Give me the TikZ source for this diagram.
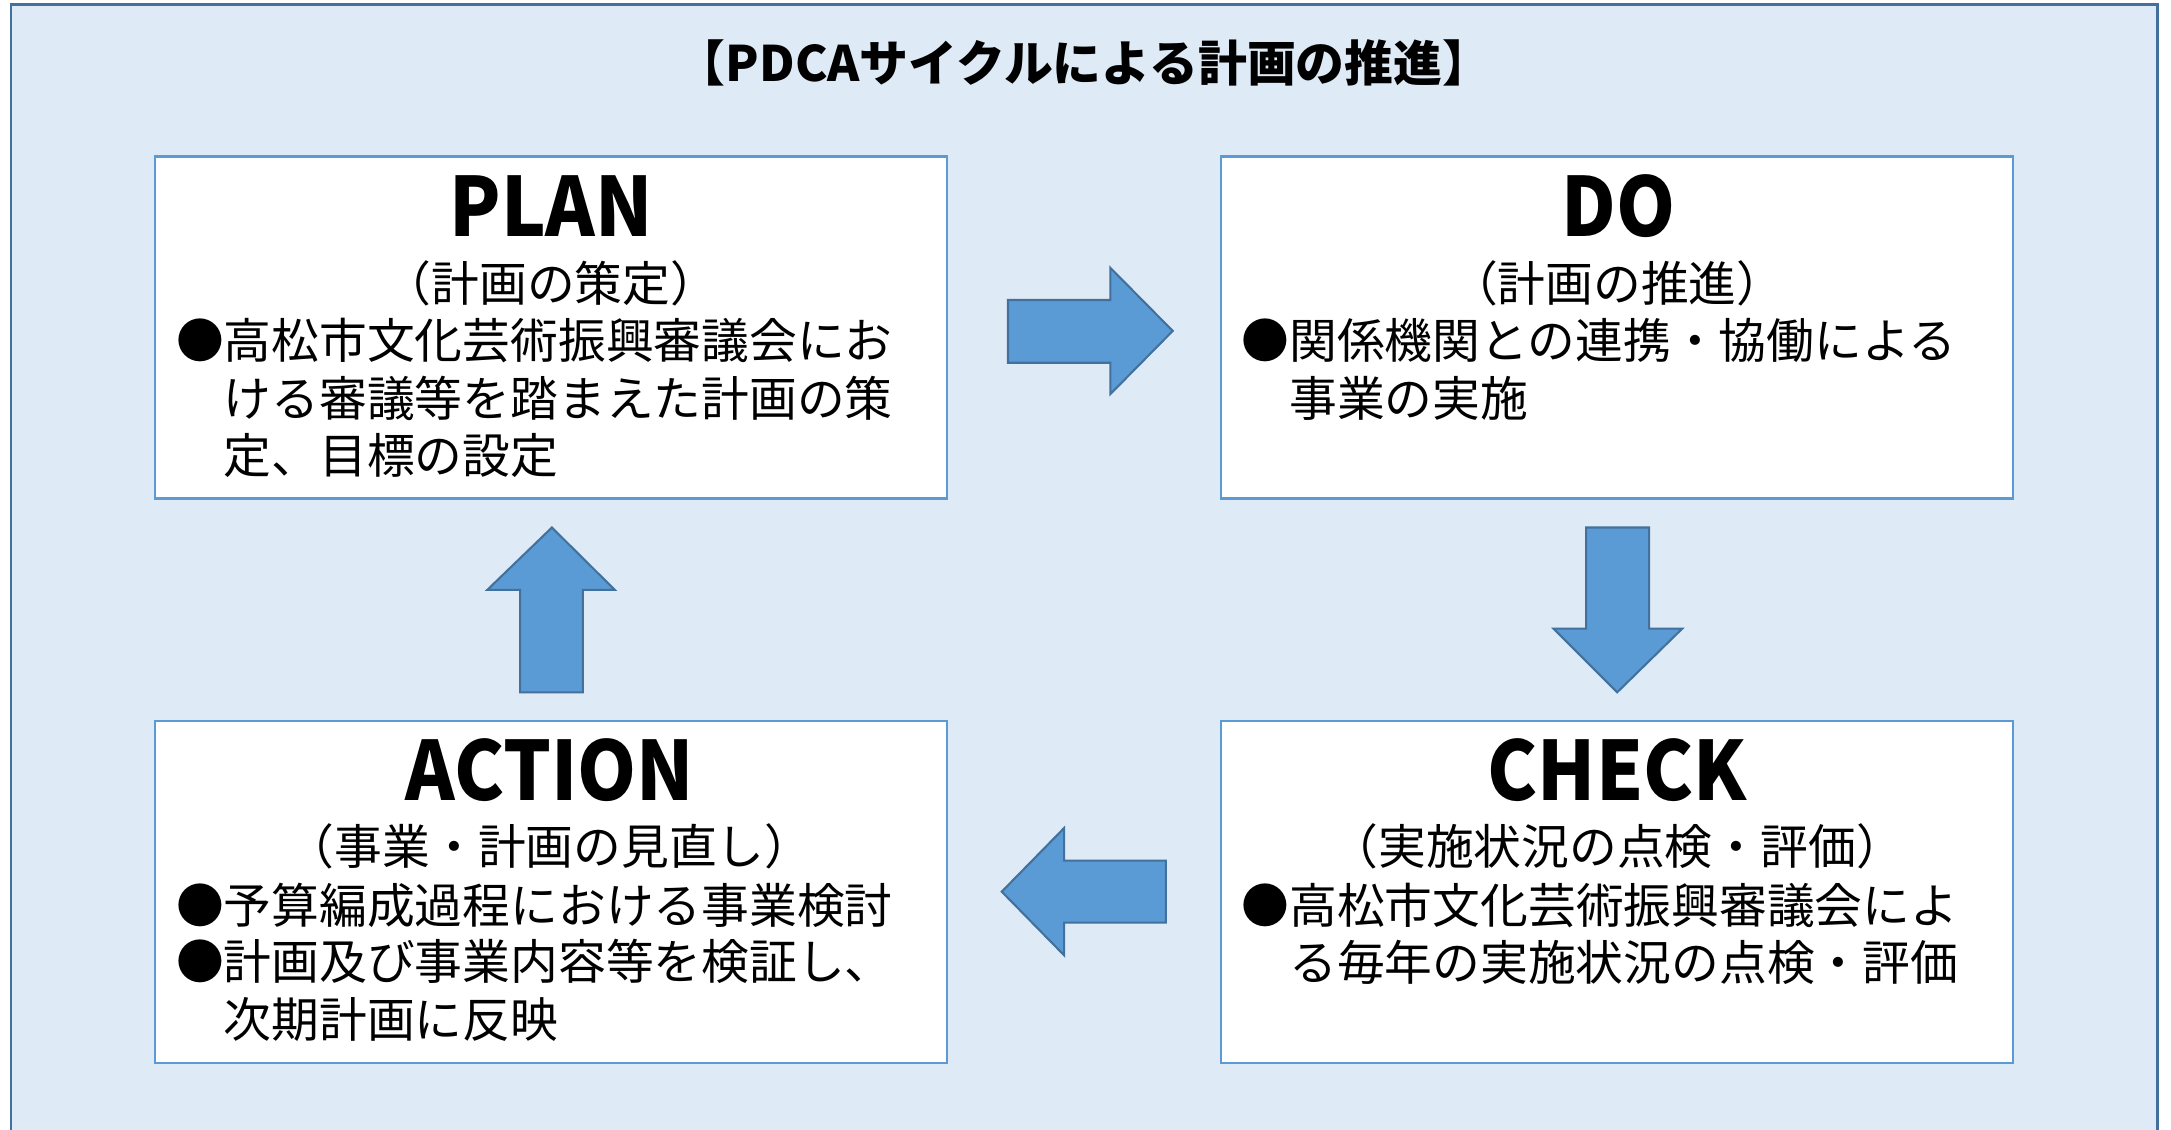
\documentclass[tikz,border=0pt]{standalone}
\usepackage{fontspec}
\setmainfont{Noto Sans CJK JP}
\newfontfamily\headfont{Noto Sans CJK JP}[FakeStretch=0.92]
\definecolor{bgblue}{HTML}{DEEAF6}
\definecolor{outerline}{HTML}{41719C}
\definecolor{boxline}{HTML}{5B9BD5}
\definecolor{arrowfill}{HTML}{5B9BD5}
\definecolor{arrowline}{HTML}{41719C}
\tikzset{
  box/.style={draw=boxline, line width=1.6pt, fill=white, minimum width=572pt, minimum height=247pt, inner sep=0pt},
  heading/.style={anchor=base, inner sep=0pt, font=\headfont\bfseries\fontsize{59}{59}\selectfont},
  titletext/.style={anchor=center, inner sep=0pt, text height=31pt, text depth=4.2pt, font=\bfseries\fontsize{35.3}{36}\selectfont},
  subhead/.style={anchor=center, inner sep=0pt, text height=30.36pt, text depth=4.14pt, font=\fontsize{34.5}{40}\selectfont},
  bodyline/.style={anchor=west, inner sep=0pt, text height=30.36pt, text depth=4.14pt, font=\fontsize{34.5}{40}\selectfont},
  blockarrow/.style={fill=arrowfill, draw=arrowline, line width=1.5pt, line join=miter},
}
\begin{document}
\begin{tikzpicture}[x=1pt,y=-1pt]
\useasboundingbox (0,0) rectangle (1568,816);
\clip (0,0) rectangle (1568,816);
\draw[fill=bgblue, draw=outerline, line width=2pt] (8,3) rectangle (1558,830);
\node[titletext] (title) at (783,45.7) {【PDCAサイクルによる計画の推進】};

\node[box] (plan) at (398,236.5) {};
\node[box] (do) at (1168,236.5) {};
\node[box] (action) at (398,644) {};
\node[box] (check) at (1168,644) {};

\node[heading] (planh) at (398,171) {PLAN};
\node[heading] (doh) at (1169,171) {DO};
\node[heading] (actionh) at (397,578) {ACTION};
\node[heading] (checkh) at (1168,578) {CHECK};

\node[subhead] (plans) at (398,204.6) {（計画の策定）};
\node[subhead] (dos) at (1168,204.6) {（計画の推進）};
\node[subhead] (actions) at (397,611) {（事業・計画の見直し）};
\node[subhead] (checks) at (1168,611) {（実施状況の点検・評価）};

\node[bodyline] (plan1) at (127,246) {●高松市文化芸術振興審議会にお};
\node[bodyline] (plan2) at (161.5,287.6) {ける審議等を踏まえた計画の策};
\node[bodyline] (plan3) at (161.5,329) {定、目標の設定};

\node[bodyline] (do1) at (896.6,246) {●関係機関との連携・協働による};
\node[bodyline] (do2) at (931,287.6) {事業の実施};

\node[bodyline] (action1) at (127,654) {●予算編成過程における事業検討};
\node[bodyline] (action2) at (127,694.5) {●計画及び事業内容等を検証し、};
\node[bodyline] (action3) at (161.5,736) {次期計画に反映};

\node[bodyline] (check1) at (896.6,654) {●高松市文化芸術振興審議会によ};
\node[bodyline] (check2) at (931,695) {る毎年の実施状況の点検・評価};

% right arrow (PLAN -> DO)
\draw[blockarrow] (728,216.7) -- (802,216.7) -- (802,193.5) -- (847,239) -- (802,284.6) -- (802,262) -- (728,262) -- cycle;
% down arrow (DO -> CHECK)
\draw[blockarrow] (1145.5,381) -- (1191,381) -- (1191,454) -- (1215,454) -- (1168,500) -- (1122,454) -- (1145.5,454) -- cycle;
% left arrow (CHECK -> ACTION)
\draw[blockarrow] (842,621.6) -- (768.6,621.6) -- (768.6,598) -- (723.5,644) -- (768.6,690) -- (768.6,666.4) -- (842,666.4) -- cycle;
% up arrow (ACTION -> PLAN)
\draw[blockarrow] (375.6,500) -- (375.6,426) -- (352,426) -- (398.6,381) -- (444,426) -- (421,426) -- (421,500) -- cycle;
\end{tikzpicture}
\end{document}
